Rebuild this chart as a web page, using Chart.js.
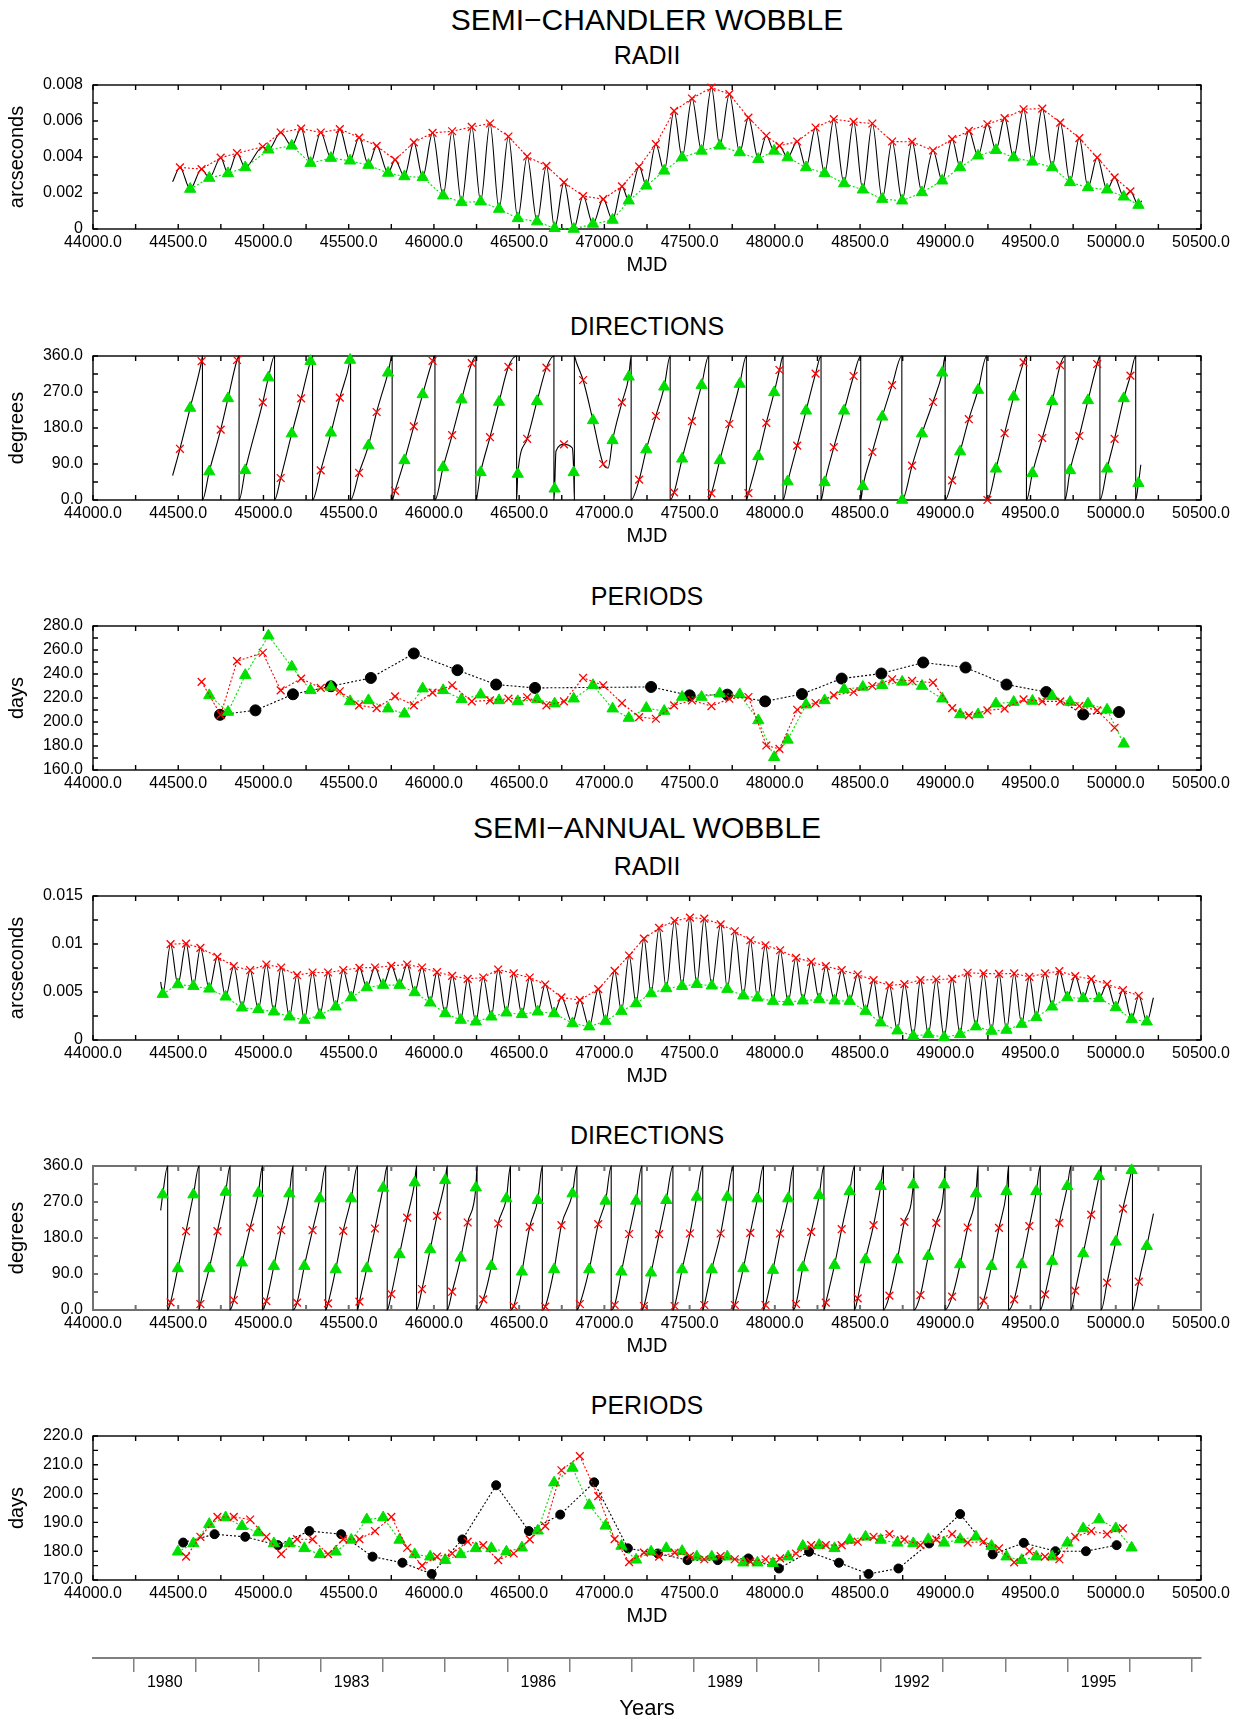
<!DOCTYPE html>
<html>
<head>
<meta charset="utf-8">
<title>Semi-Chandler and semi-annual wobble</title>
<script src="https://cdn.jsdelivr.net/npm/chart.js@4"></script>
<style>
  body { margin: 0; background: #fff; width: 1242px; height: 1722px; position: relative; overflow: hidden;
         font-family: 'Liberation Sans', Arial, Helvetica, sans-serif; color: #000; }
  canvas { position: absolute; left: 0; }
  .ttl { position: absolute; left: 0; width: 1294px; text-align: center; line-height: 1; white-space: nowrap; }
  .big { font-size: 30px; }
  .sub { font-size: 25px; }
</style>
</head>
<body>
<div class="ttl big" style="top:5px">SEMI−CHANDLER WOBBLE</div>
<div class="ttl sub" style="top:43px">RADII</div>
<div class="ttl sub" style="top:314px">DIRECTIONS</div>
<div class="ttl sub" style="top:584px">PERIODS</div>
<div class="ttl big" style="top:813px">SEMI−ANNUAL WOBBLE</div>
<div class="ttl sub" style="top:854px">RADII</div>
<div class="ttl sub" style="top:1123px">DIRECTIONS</div>
<div class="ttl sub" style="top:1393px">PERIODS</div>

<canvas id="scRad"></canvas>
<canvas id="scDir"></canvas>
<canvas id="scPer"></canvas>
<canvas id="saRad"></canvas>
<canvas id="saDir"></canvas>
<canvas id="saPer"></canvas>
<canvas id="years"></canvas>

<script>
// ---- Semi-Chandler wobble: epochs (MJD) of maxima (x) and minima (triangles)
const scPeakMjd = [44510, 44637, 44749, 44845, 44996, 45101, 45221, 45336, 45448, 45561, 45664, 45772, 45882, 45992,
  46107, 46222, 46329, 46437, 46547, 46660, 46763, 46875, 46993, 47103, 47204, 47302, 47409, 47514, 47628, 47733,
  47845, 47950, 48027, 48131, 48239, 48346, 48462, 48572, 48688, 48805, 48928, 49040, 49138, 49247, 49348, 49459,
  49569, 49674, 49786, 49891, 49993, 50086];
const scTroughMjd = [44570, 44682, 44792, 44893, 45029, 45166, 45276, 45396, 45508, 45616, 45731, 45827, 45934, 46054,
  46162, 46274, 46382, 46492, 46605, 46708, 46820, 46933, 47048, 47143, 47246, 47351, 47456, 47570, 47677, 47794,
  47903, 47996, 48075, 48183, 48292, 48406, 48516, 48630, 48747, 48863, 48982, 49087, 49192, 49297, 49401, 49511,
  49627, 49732, 49837, 49949, 50047, 50133];

// radii (arcseconds)
const scRadPeak = [0.00342, 0.00333, 0.00396, 0.00421, 0.00457, 0.00536, 0.00558, 0.00536, 0.00555, 0.00508, 0.00462,
  0.00384, 0.00481, 0.00534, 0.00543, 0.00567, 0.00586, 0.00514, 0.00403, 0.00351, 0.00259, 0.00183, 0.00166, 0.00237,
  0.00347, 0.00471, 0.00656, 0.00725, 0.00786, 0.00749, 0.00619, 0.00518, 0.00462, 0.00486, 0.00564, 0.0061, 0.00595,
  0.00586, 0.00486, 0.00484, 0.00436, 0.00499, 0.00545, 0.00582, 0.00616, 0.00665, 0.00669, 0.00591, 0.00505, 0.00397,
  0.00287, 0.00209];
const scRadTrough = [0.00222, 0.00283, 0.00309, 0.00342, 0.0044, 0.00462, 0.00366, 0.00394, 0.00379, 0.00355, 0.00311,
  0.00292, 0.00287, 0.00185, 0.00148, 0.00152, 0.00111, 0.00059, 0.00041, 0.00004, 0.0, 0.00028, 0.0005, 0.00157,
  0.0024, 0.00323, 0.00397, 0.00434, 0.00462, 0.00425, 0.00388, 0.00434, 0.00397, 0.00342, 0.00309, 0.00253, 0.00218,
  0.00166, 0.00157, 0.00203, 0.00268, 0.00342, 0.00407, 0.00438, 0.00397, 0.00373, 0.00342, 0.00259, 0.00231, 0.00218,
  0.00179, 0.00133];
const scRadEdgeMjd = [44467, 50152];
const scRadEdge = [0.00262, 0.00157];

// directions (degrees)
const scDirPeak = [128, 347, 176, 350, 244, 55, 254, 74, 256, 68, 220, 23, 184, 348, 162, 342, 157, 333, 153, 331,
  139, 300, 90, 244, 51, 210, 19, 197, 17, 190, 17, 193, 325, 136, 316, 132, 310, 120, 287, 86,
  245, 49, 202, 0, 167, 344, 155, 337, 160, 340, 153, 311];
const scDirTrough = [230, 71, 254, 74, 306, 166, 347, 168, 350, 136, 318, 99, 264, 82, 251, 69, 245, 65, 247, 28,
  69, 199, 149, 308, 126, 283, 103, 287, 99, 290, 109, 269, 46, 223, 44, 223, 34, 208, 0, 166,
  318, 121, 275, 78, 258, 67, 247, 74, 249, 78, 254, 42];
const scDirWrapMjd = [44642, 44857, 45065, 45288, 45511, 45755, 46006, 46246, 46485, 46704, 47157, 47386, 47612,
  47833, 48048, 48271, 48504, 48745, 48999, 49243, 49476, 49702, 49907, 50117];
const scDirWrapBackMjd = [46824];
const scDirShapeMjd = [46716, 46812, 46835, 47022];
const scDirShape = [122, 130, 345, 80];
const scDirEdgeMjd = [44467, 50147];
const scDirEdge = [61, 88];

// periods (days)
const scPerPeak = [233.4, 206.0, 250.7, 257.7, 226.4, 236.2, 228.4, 225.6, 213.9, 211.6, 221.4, 213.9, 224.5, 230.6,
  217.2, 218.0, 219.4, 220.6, 213.9, 217.2, 236.7, 230.6, 215.8, 204.1, 202.7, 213.9, 218.0, 213.3, 219.4, 220.8,
  180.4, 177.6, 210.2, 215.8, 222.2, 225.0, 230.0, 235.6, 234.2, 232.8, 211.6, 205.5, 209.7, 211.1, 218.9, 217.2,
  217.2, 213.3, 209.7, 195.2];
const scPerTrough = [222.2, 208.3, 239.0, 271.9, 246.0, 226.4, 229.2, 217.2, 218.0, 211.1, 206.9, 227.8, 226.4, 218.9,
  222.8, 218.0, 217.2, 218.9, 215.3, 219.4, 230.6, 211.1, 203.3, 211.6, 209.1, 220.8, 220.8, 223.6, 223.0, 201.3,
  170.6, 185.1, 214.4, 218.0, 227.2, 229.2, 230.6, 233.4, 230.0, 219.4, 206.3, 206.3, 215.3, 216.6, 217.5, 221.4,
  216.6, 215.3, 210.2, 181.8];
const scPerMeanMjd = [44745, 44953, 45173, 45396, 45630, 45882, 46138, 46365, 46593, 47274, 47500, 47721, 47943,
  48159, 48392, 48625, 48870, 49119, 49359, 49592, 49809, 50019];
const scPerMean = [206.0, 209.7, 223.1, 229.8, 236.7, 257.1, 243.2, 231.2, 228.4, 229.2, 222.2, 222.8, 217.2,
  223.3, 236.2, 240.4, 249.6, 245.4, 231.2, 225.0, 206.3, 208.3];

// ---- Semi-annual wobble
const saPeakMjd = [44455, 44546, 44630, 44730, 44826, 44922, 45017, 45104, 45197, 45288, 45379, 45468, 45563, 45654,
  45750, 45843, 45930, 46018, 46107, 46198, 46289, 46377, 46468, 46562, 46653, 46748, 46856, 46964, 47060, 47145,
  47232, 47321, 47412, 47502, 47586, 47682, 47765, 47856, 47945, 48031, 48124, 48213, 48299, 48392, 48486, 48579,
  48672, 48760, 48854, 48947, 49040, 49131, 49224, 49315, 49404, 49493, 49585, 49669, 49762, 49856, 49949, 50042, 50135];
const saTroughMjd = [44409, 44498, 44589, 44682, 44778, 44874, 44970, 45061, 45152, 45240, 45331, 45424, 45515, 45606,
  45702, 45798, 45887, 45978, 46066, 46157, 46246, 46337, 46425, 46516, 46609, 46705, 46813, 46911, 47007, 47100,
  47186, 47274, 47363, 47456, 47542, 47630, 47721, 47815, 47898, 47989, 48078, 48164, 48260, 48350, 48439, 48532,
  48621, 48719, 48812, 48900, 48993, 49087, 49180, 49271, 49359, 49448, 49534, 49627, 49716, 49809, 49902, 50000,
  50093, 50182];

const saRadPeak = [0.00998, 0.01004, 0.00959, 0.00866, 0.00769, 0.00727, 0.00786, 0.00755, 0.00675, 0.00703, 0.00703,
  0.00727, 0.00752, 0.00755, 0.00772, 0.00786, 0.00755, 0.00707, 0.00668, 0.00637, 0.00651, 0.00734, 0.00693, 0.00651,
  0.00578, 0.00443, 0.00416, 0.0053, 0.0072, 0.0088, 0.01056, 0.01167, 0.0124, 0.01275, 0.01264, 0.01205, 0.01133,
  0.01039, 0.00987, 0.00935, 0.00856, 0.00814, 0.00769, 0.00727, 0.00682, 0.00624, 0.00568, 0.00582, 0.00624, 0.0063,
  0.00637, 0.007, 0.00693, 0.00689, 0.00693, 0.00658, 0.00693, 0.00717, 0.00665, 0.00634, 0.00582, 0.0052, 0.00461];
const saRadTrough = [0.00478, 0.00578, 0.00561, 0.00533, 0.0045, 0.00336, 0.00319, 0.00294, 0.00242, 0.00208, 0.0026,
  0.00346, 0.00443, 0.00547, 0.00572, 0.00572, 0.00495, 0.00388, 0.00277, 0.00208, 0.0019, 0.00242, 0.00284, 0.00267,
  0.00294, 0.00277, 0.00173, 0.00139, 0.00197, 0.00301, 0.00381, 0.00485, 0.00537, 0.00561, 0.00582, 0.00565, 0.0053,
  0.00461, 0.0044, 0.00405, 0.00398, 0.00409, 0.00423, 0.00409, 0.00405, 0.00301, 0.0018, 0.00097, 0.00042, 0.00059,
  0.00028, 0.00059, 0.00139, 0.00094, 0.00104, 0.00166, 0.00236, 0.00346, 0.00443, 0.00433, 0.00433, 0.00339, 0.00215,
  0.0019];
const saRadEdgeMjd = [44397, 50221];
const saRadEdge = [0.00606, 0.0044];

const saDirPeak = [19.1, 197.0, 15.0, 197.0, 24.9, 206.2, 22.4, 199.5, 18.3, 199.5, 16.6, 197.9, 20.8, 203.7, 39.9,
  231.1, 52.4, 235.3, 45.7, 218.7, 26.6, 216.2, 10.0, 207.9, 8.3, 212.0, 15.0, 214.5, 12.5, 190.0, 10.0, 189.6, 10.0,
  191.2, 12.5, 191.2, 12.5, 192.9, 12.5, 191.2, 15.0, 195.4, 18.3, 202.0, 29.1, 212.0, 35.8, 220.3, 37.4, 217.8, 33.3,
  206.2, 23.3, 205.4, 26.6, 209.5, 39.1, 217.8, 48.2, 238.6, 68.2, 253.6, 70.7];
const saDirTrough = [288.5, 103.9, 288.5, 103.9, 295.1, 118.1, 292.6, 109.7, 291.0, 109.7, 278.5, 101.4, 278.5, 103.9,
  305.1, 138.8, 318.4, 151.3, 324.2, 130.5, 305.9, 109.7, 278.5, 95.6, 274.4, 101.4, 291.0, 101.4, 272.7, 95.6,
  272.7, 93.1, 274.4, 101.4, 282.7, 101.4, 282.7, 103.9, 278.5, 99.8, 278.5, 106.4, 286.8, 112.2, 296.8, 126.4,
  309.3, 126.4, 313.4, 134.7, 313.4, 113.9, 291.0, 109.7, 296.8, 113.9, 296.8, 122.2, 309.3, 141.3, 334.2, 170.4,
  349.2, 159.6];
const saDirWrapMjd = [44438, 44622, 44804, 44994, 45173, 45365, 45551, 45726, 45898, 46078, 46253, 46449, 46636,
  46839, 47040, 47220, 47402, 47577, 47756, 47933, 48108, 48288, 48467, 48637, 48816, 48998, 49192, 49371, 49557,
  49737, 49914, 50098];
const saDirEdgeMjd = [44397, 50221];
const saDirEdge = [249, 241];

const saPerPeak = [178.1, 185.0, 191.9, 191.9, 191.0, 185.0, 179.0, 184.2, 184.1, 179.0, 184.2, 184.2, 187.0, 191.9,
  181.2, 175.0, 178.1, 179.2, 183.3, 182.1, 176.9, 179.2, 184.1, 188.7, 208.1, 213.0, 199.1, 184.2, 176.2, 179.5,
  178.1, 179.5, 178.3, 177.2, 178.3, 177.2, 176.4, 177.2, 177.5, 179.2, 182.1, 182.1, 182.1, 183.3, 185.0, 185.9,
  184.1, 182.1, 184.1, 185.9, 183.0, 183.3, 181.0, 176.1, 180.0, 178.1, 177.2, 185.0, 187.0, 185.9, 187.9];
const saPerTrough = [179.8, 182.7, 189.4, 191.7, 188.7, 186.5, 182.7, 182.7, 181.0, 178.9, 179.8, 183.9, 191.0, 191.7,
  183.9, 178.9, 178.1, 176.9, 178.9, 181.0, 181.0, 179.8, 181.2, 187.1, 203.8, 208.9, 196.0, 188.8, 181.8, 177.0,
  179.8, 181.0, 180.0, 178.1, 178.1, 178.1, 176.0, 176.0, 175.8, 178.1, 181.8, 182.1, 181.0, 183.9, 185.0, 183.9,
  182.9, 182.7, 184.1, 182.9, 184.1, 185.0, 181.8, 178.1, 176.9, 178.1, 178.1, 182.9, 187.9, 191.0, 187.9, 181.2];
const saPerMeanMjd = [44529, 44713, 44893, 45085, 45269, 45456, 45640, 45815, 45987, 46167, 46365, 46557, 46741,
  46940, 47138, 47314, 47488, 47665, 47845, 48024, 48201, 48376, 48550, 48725, 48905, 49087, 49278, 49460, 49646,
  49825, 50005];
const saPerMean = [183.0, 185.9, 185.0, 182.1, 187.0, 185.9, 178.1, 176.0, 172.1, 184.1, 202.9, 187.0, 192.7, 203.9,
  181.0, 179.2, 176.9, 176.9, 177.5, 174.0, 179.8, 176.0, 172.1, 174.0, 182.7, 192.9, 178.9, 182.9, 180.0, 180.0, 182.1];

// ---- calendar axis
const yearLabels = [1980, 1983, 1986, 1989, 1992, 1995];
const MJD_1980 = 44239;

// ---- layout
const X_MIN = 44000, X_MAX = 50500;
const PLOT_LEFT = 93, PLOT_RIGHT = 1201, PLOT_H = 144;
const PAD_TOP = 22, X_AXIS_H = 48, TICK = 5;
const RED = '#ff0000', GREEN = '#00e000';
const FONT = "'Liberation Sans', Arial, Helvetica, sans-serif";

Chart.defaults.font.family = FONT;
Chart.defaults.color = '#000';

const frameTicks = {
  id: 'frameTicks',
  beforeDatasetsDraw(chart, args, opts) {
    const { ctx, chartArea: a } = chart;
    const xs = chart.scales.x, ys = chart.scales.y;
    ctx.save();
    ctx.strokeStyle = opts.color;
    ctx.lineWidth = opts.width;
    ctx.strokeRect(a.left, a.top, a.right - a.left, a.bottom - a.top);
    ctx.beginPath();
    xs.ticks.forEach(t => {
      const p = xs.getPixelForValue(t.value);
      ctx.moveTo(p, a.top); ctx.lineTo(p, a.top + TICK);
      ctx.moveTo(p, a.bottom); ctx.lineTo(p, a.bottom - TICK);
    });
    ys.ticks.forEach(t => {
      const p = ys.getPixelForValue(t.value);
      ctx.moveTo(a.left, p); ctx.lineTo(a.left + TICK, p);
      ctx.moveTo(a.right, p); ctx.lineTo(a.right - TICK, p);
    });
    ctx.stroke();
    ctx.restore();
  }
};

function pts(xs, ys) { return xs.map((x, i) => ({ x, y: ys[i] })); }

function redSeries(xs, ys, joined = true) {
  return { data: pts(xs, ys), showLine: joined, borderColor: RED, borderWidth: 1.1, borderDash: [2, 2], tension: 0,
    pointStyle: 'crossRot', pointRadius: 5.5, pointBorderColor: RED, pointBackgroundColor: RED,
    pointBorderWidth: 1.3, clip: false };
}
function greenSeries(xs, ys, joined = true) {
  return { data: pts(xs, ys), showLine: joined, borderColor: GREEN, borderWidth: 1.1, borderDash: [2, 2], tension: 0,
    pointStyle: 'triangle', pointRadius: 6.5, pointBorderColor: GREEN, pointBackgroundColor: GREEN,
    pointBorderWidth: 1, clip: false };
}
function meanSeries(xs, ys, r) {
  return { data: pts(xs, ys), borderColor: '#000', borderWidth: 1.1, borderDash: [2, 2], tension: 0,
    pointStyle: 'circle', pointRadius: r, pointBorderColor: '#000', pointBackgroundColor: '#000',
    pointBorderWidth: 1, clip: false };
}
function curveSeries(points) {
  return { data: points, borderColor: '#000', borderWidth: 1.1, pointRadius: 0,
    cubicInterpolationMode: 'monotone', clip: false };
}

// continuous radius curve through maxima and minima
function radiusCurve(px, py, tx, ty, ex, ey) {
  return [...pts(px, py), ...pts(tx, ty), ...pts(ex, ey)].sort((a, b) => a.x - b.x);
}
// direction curve, wrapping at 360 degrees
function directionCurve(px, py, tx, ty, ex, ey, wraps, backWraps, sx, sy) {
  const p = [...pts(px, py), ...pts(tx, ty), ...pts(ex, ey), ...pts(sx, sy)];
  wraps.forEach(w => p.push({ x: w, y: 360 }, { x: w + 0.01, y: 0 }));
  backWraps.forEach(w => p.push({ x: w, y: 0 }, { x: w + 0.01, y: 360 }));
  return p.sort((a, b) => a.x - b.x);
}

function panel(id, plotTop, y, datasets, showMjd, frame) {
  const canvas = document.getElementById(id);
  canvas.width = 1242;
  canvas.height = PAD_TOP + PLOT_H + X_AXIS_H;
  canvas.style.top = (plotTop - PAD_TOP) + 'px';
  new Chart(canvas, {
    type: 'line',
    data: { datasets },
    plugins: [frameTicks],
    options: {
      responsive: false, animation: false, devicePixelRatio: 1, events: [],
      layout: { padding: { left: 0, right: 1242 - PLOT_RIGHT, top: PAD_TOP, bottom: 0 } },
      plugins: { legend: { display: false }, tooltip: { enabled: false },
        frameTicks: frame || { color: '#000', width: 1.4 } },
      scales: {
        x: {
          type: 'linear', min: X_MIN, max: X_MAX,
          grid: { display: false, drawTicks: false }, border: { display: false },
          ticks: { stepSize: 250, autoSkip: false, maxRotation: 0, padding: 4, font: { size: 16 },
            callback: v => (v % 500 === 0 ? v.toFixed(1) : '') },
          title: { display: showMjd, text: 'MJD', font: { size: 20 }, padding: { top: 2, bottom: 0 } },
          afterFit: s => { s.height = X_AXIS_H; }
        },
        y: {
          type: 'linear', min: y.min, max: y.max,
          grid: { display: false, drawTicks: false }, border: { display: false },
          ticks: { stepSize: y.step, autoSkip: false, padding: 10, font: { size: 16 }, callback: y.label },
          title: { display: true, text: y.title, font: { size: 20 }, padding: { top: 5, bottom: 0 } },
          afterFit: s => { s.width = PLOT_LEFT; }
        }
      }
    }
  });
}

const degLabel = v => (v % 90 === 0 ? v.toFixed(1) : '');

panel('scRad', 85,
  { min: 0, max: 0.008, step: 0.001, title: 'arcseconds',
    label: v => (Math.round(v / 0.001) % 2 === 0 ? String(+v.toFixed(4)) : '') },
  [redSeries(scPeakMjd, scRadPeak), greenSeries(scTroughMjd, scRadTrough),
   curveSeries(radiusCurve(scPeakMjd, scRadPeak, scTroughMjd, scRadTrough, scRadEdgeMjd, scRadEdge))],
  true);

panel('scDir', 356,
  { min: 0, max: 360, step: 45, title: 'degrees', label: degLabel },
  [redSeries(scPeakMjd, scDirPeak, false), greenSeries(scTroughMjd, scDirTrough, false),
   curveSeries(directionCurve(scPeakMjd, scDirPeak, scTroughMjd, scDirTrough, scDirEdgeMjd, scDirEdge,
     scDirWrapMjd, scDirWrapBackMjd, scDirShapeMjd, scDirShape))],
  true);

panel('scPer', 626,
  { min: 160, max: 280, step: 10, title: 'days', label: v => (v % 20 === 0 ? v.toFixed(1) : '') },
  [redSeries(scPeakMjd.slice(1, 51), scPerPeak), greenSeries(scTroughMjd.slice(1, 51), scPerTrough),
   meanSeries(scPerMeanMjd, scPerMean, 5.5)],
  false);

panel('saRad', 896,
  { min: 0, max: 0.015, step: 0.0025, title: 'arcseconds',
    label: v => (Math.round(v / 0.0025) % 2 === 0 ? String(+v.toFixed(4)) : '') },
  [redSeries(saPeakMjd, saRadPeak), greenSeries(saTroughMjd, saRadTrough),
   curveSeries(radiusCurve(saPeakMjd, saRadPeak, saTroughMjd, saRadTrough, saRadEdgeMjd, saRadEdge))],
  true);

panel('saDir', 1166,
  { min: 0, max: 360, step: 45, title: 'degrees', label: degLabel },
  [redSeries(saPeakMjd, saDirPeak, false), greenSeries(saTroughMjd, saDirTrough, false),
   curveSeries(directionCurve(saPeakMjd, saDirPeak, saTroughMjd, saDirTrough, saDirEdgeMjd, saDirEdge,
     saDirWrapMjd, [], [], []))],
  true, { color: '#707070', width: 2 });

panel('saPer', 1436,
  { min: 170, max: 220, step: 5, title: 'days', label: v => (v % 10 === 0 ? v.toFixed(1) : '') },
  [redSeries(saPeakMjd.slice(1, 62), saPerPeak), greenSeries(saTroughMjd.slice(1, 63), saPerTrough),
   meanSeries(saPerMeanMjd, saPerMean, 4.5)],
  true);

// calendar years under the last panel, on the same MJD scale
(function () {
  const canvas = document.getElementById('years');
  canvas.width = 1242;
  canvas.height = 82;
  canvas.style.top = '1640px';
  const toYear = mjd => 1980 + (mjd - MJD_1980) / 365.25;
  new Chart(canvas, {
    type: 'line',
    data: { datasets: [] },
    options: {
      responsive: false, animation: false, devicePixelRatio: 1, events: [],
      layout: { padding: { left: PLOT_LEFT, right: 1242 - PLOT_RIGHT, top: 0, bottom: 0 } },
      plugins: { legend: { display: false }, tooltip: { enabled: false } },
      scales: {
        x: {
          type: 'linear', position: 'bottom', min: toYear(X_MIN), max: toYear(X_MAX),
          grid: { display: true, drawOnChartArea: false, drawTicks: true, tickLength: 14, color: '#808080', lineWidth: 1.5 },
          border: { display: true, color: '#808080', width: 2 },
          ticks: { stepSize: 1, includeBounds: false, autoSkip: false, maxRotation: 0, padding: 1, labelOffset: 31,
            font: { size: 16 }, callback: v => (yearLabels.includes(v) ? String(v) : '') },
          title: { display: true, text: 'Years', font: { size: 22 }, padding: { top: 0, bottom: 0 } },
          afterFit: s => { s.height = 64; }
        },
        y: { display: false, min: 0, max: 1 }
      }
    }
  });
})();
</script>
</body>
</html>
